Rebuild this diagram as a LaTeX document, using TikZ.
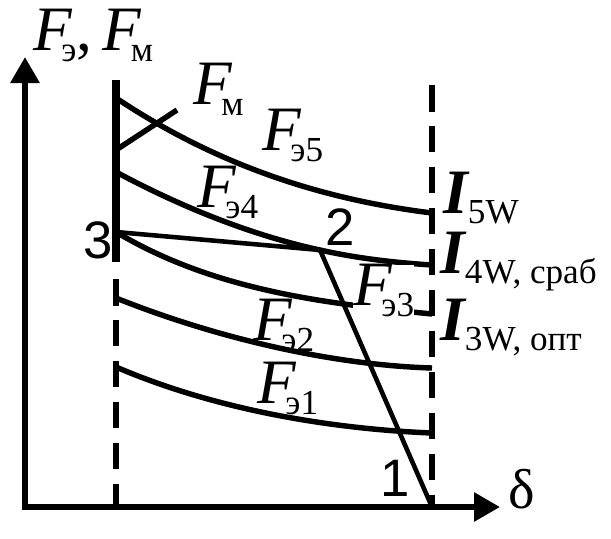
\documentclass[tikz,border=0pt]{standalone}
\usepackage{fontspec}
\setmainfont{Liberation Serif}
\newfontfamily\numfont{Liberation Sans}
\usetikzlibrary{arrows.meta}
\tikzset{
    axis-line/.style = {line width=3.4pt, line join=miter, arrows={Triangle[length=0.52cm,width=0.56cm]-Triangle[length=0.52cm,width=0.56cm]}},
    guide-line/.style = {line width=3.4pt, dash pattern=on 0.53cm off 0.29cm},
    curve-line/.style = {line width=3.1pt},
    chord-line/.style = {line width=2.6pt},
    f-label/.style = {anchor=base west, inner sep=0pt},
    num-label/.style = {font=\numfont\fontsize{30}{30}\selectfont, inner sep=0pt},
}
\newcommand{\Fsub}[1]{{\fontsize{36}{36}\selectfont\itshape F}\kern-6pt\raisebox{-6.5pt}{\fontsize{20}{20}\selectfont\rmfamily #1}}
\newcommand{\Isub}[1]{{\fontsize{36}{36}\selectfont\bfseries\itshape I}\raisebox{-5.7pt}{\fontsize{20}{20}\selectfont\rmfamily #1}}

\begin{document}
\begin{tikzpicture}[x=0.02cm, y=-0.02cm]
\useasboundingbox (0,0) rectangle (611,538);
\coordinate (origin) at (25,507);
\coordinate (p1) at (432,507);
\coordinate (p2) at (320,250);
\coordinate (p3) at (116,232);

\draw[axis-line] (25,57) -- (origin) -- (500,507);
\draw[line width=4pt] (116,80) -- (p3) -- (116,262);
\draw[guide-line] (116,279) -- (116,507);
\draw[guide-line] (432,85) -- (p1);

\draw[curve-line] (116,98) .. controls (221,168) and (327,200) .. (432,213);
\draw[curve-line] (116,172) .. controls (185,209) and (255,236) .. (p2) .. controls (360,259) and (400,263) .. (432,265);
\draw[curve-line] (p3) .. controls (216,292) and (332,304) .. (432,314);
\draw[curve-line] (116,298) .. controls (216,338) and (332,365) .. (432,368);
\draw[curve-line] (116,367) .. controls (216,410) and (332,429) .. (432,433);
\draw[curve-line] (116,150) -- (177,110);
\draw[chord-line] (p3) -- (p2) -- (p1);

\node[f-label] (axis-lab) at (33,50) {\Fsub{э}{\fontsize{36}{36}\selectfont,\,}\Fsub{м}};
\node[f-label] (fm-lab) at (193,104) {\Fsub{м}};
\node[f-label] (f5-lab) at (262,150) {\Fsub{э5}};
\node[f-label] (f4-lab) at (197,207) {\Fsub{э4}};
\node[f-label, fill=white, text height=23pt, text depth=7pt] (f3-lab) at (353,305) {\Fsub{э3}};
\node[f-label] (f2-lab) at (253,340) {\Fsub{э2}};
\node[f-label] (f1-lab) at (257,403) {\Fsub{э1}};
\node[f-label] (i5-lab) at (443,213) {\Isub{5W}};
\node[f-label] (i4-lab) at (440,273) {\Isub{4W, сраб}};
\node[f-label] (i3-lab) at (440,340) {\Isub{3W, опт}};

\node[num-label] (n3) at (98,240) {3};
\node[num-label] (n2) at (340,227) {2};
\node[num-label] (n1) at (395,478) {1};
\node[font=\fontsize{32}{32}\selectfont, inner sep=0pt] (delta) at (522,489) {δ};
\end{tikzpicture}
\end{document}
